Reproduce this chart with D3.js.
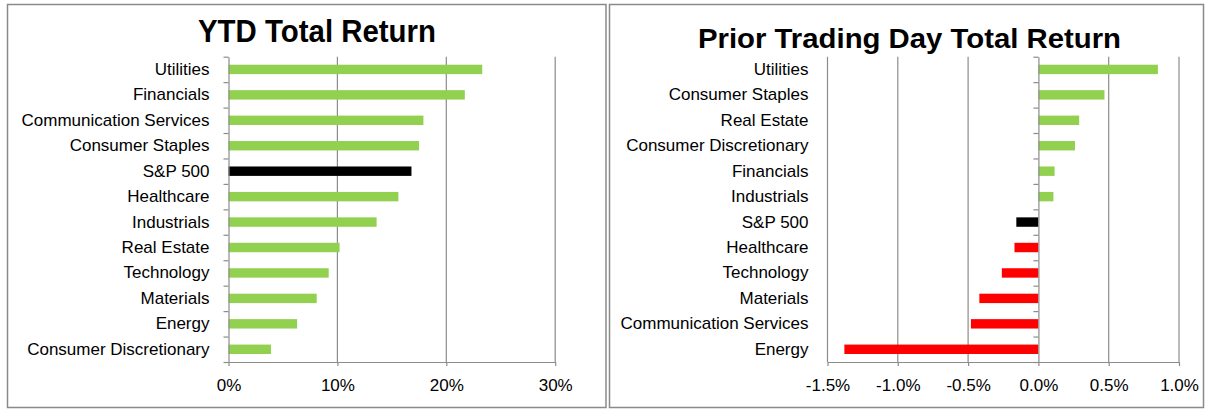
<!DOCTYPE html>
<html>
<head>
<meta charset="utf-8">
<script src="https://cdn.jsdelivr.net/npm/d3@7"></script>
<style>
  body { margin: 0; background: #fff; }
  svg { display: block; font-family: "Liberation Sans", Arial, sans-serif; }
</style>
</head>
<body>
<div id="chart"></div>
<script>
// YTD total return by sector (%)
const ytdCategories = ["Utilities", "Financials", "Communication Services", "Consumer Staples", "S&P 500",
  "Healthcare", "Industrials", "Real Estate", "Technology", "Materials", "Energy", "Consumer Discretionary"];
const ytdValues = [23.3, 21.7, 17.9, 17.5, 16.8, 15.6, 13.6, 10.2, 9.2, 8.1, 6.3, 3.9];
const ytdTicks = [0, 10, 20, 30];

// prior trading day total return by sector (%)
const dayCategories = ["Utilities", "Consumer Staples", "Real Estate", "Consumer Discretionary", "Financials",
  "Industrials", "S&P 500", "Healthcare", "Technology", "Materials", "Communication Services", "Energy"];
const dayValues = [0.85, 0.47, 0.29, 0.26, 0.115, 0.107, -0.157, -0.17, -0.26, -0.42, -0.48, -1.38];
const dayTicks = [-1.5, -1.0, -0.5, 0, 0.5, 1.0];

const W = 1206, H = 409;
const svg = d3.select("#chart").append("svg").attr("width", W).attr("height", H);

const green = "#92d050", red = "#ff0000", grid = "#8c8c8c";

function barColor(cat, v) {
  if (cat === "S&P 500") return "#000";
  return v < 0 ? red : green;
}

function drawPanel(o) {
  const g = svg.append("g");
  // chart frame
  g.append("rect").attr("x", o.frame[0]).attr("y", 4.5)
    .attr("width", o.frame[1] - o.frame[0]).attr("height", 403)
    .attr("fill", "#fff").attr("stroke", "#8a8a8a").attr("stroke-width", 1.5);

  g.append("text").attr("x", o.titleX).attr("y", o.titleY)
    .attr("text-anchor", "middle").attr("font-weight", "bold")
    .attr("font-size", o.titleSize).attr("textLength", o.titleLen).attr("lengthAdjust", "spacingAndGlyphs")
    .attr("fill", "#000").text(o.title);

  const top = 56.7, bottom = 362;
  const x = d3.scaleLinear().domain(o.domain).range(o.xr);
  const y = d3.scaleBand().domain(o.cats).range([top, bottom]).paddingInner(0.63).paddingOuter(0.315);
  const yb = d3.scaleLinear().domain([0, o.cats.length]).range([top, bottom]);

  // vertical gridlines
  g.append("g").selectAll("line").data(o.ticks.filter(t => t !== 0)).join("line")
    .attr("x1", d => x(d)).attr("x2", d => x(d)).attr("y1", top).attr("y2", bottom)
    .attr("stroke", grid).attr("stroke-width", 1.2);

  // x axis
  const xa = g.append("g").attr("transform", `translate(0,${bottom})`)
    .call(d3.axisBottom(x).tickValues(o.ticks).tickFormat(o.fmt).tickSize(4).tickSizeOuter(0).tickPadding(13));
  xa.select(".domain").attr("stroke", grid).attr("stroke-width", 1.2);
  xa.selectAll(".tick line").attr("stroke", grid).attr("stroke-width", 1.2);
  xa.selectAll("text").attr("font-size", 17).attr("fill", "#000").attr("font-family", "Liberation Sans, Arial, sans-serif");

  // bars
  g.append("g").selectAll("rect").data(o.cats.map((c, i) => ({ c, v: o.vals[i] }))).join("rect")
    .attr("x", d => x(Math.min(0, d.v))).attr("width", d => Math.abs(x(d.v) - x(0)))
    .attr("y", d => y(d.c)).attr("height", y.bandwidth())
    .attr("fill", d => barColor(d.c, d.v));

  // category axis at zero with boundary ticks
  const ya = g.append("g").attr("transform", `translate(${x(0)},0)`)
    .call(d3.axisLeft(yb).ticks(o.cats.length).tickFormat("").tickSize(5).tickSizeOuter(0));
  ya.select(".domain").attr("stroke", grid).attr("stroke-width", 1.2);
  ya.selectAll(".tick line").attr("stroke", grid).attr("stroke-width", 1.2);

  // category labels at the low end of the plot
  const yl = g.append("g").attr("transform", `translate(${o.xr[0]},0)`)
    .call(d3.axisLeft(y).tickSize(0).tickPadding(19));
  yl.select(".domain").remove();
  yl.selectAll("text").attr("font-size", 17).attr("fill", "#000").attr("font-family", "Liberation Sans, Arial, sans-serif");
}

drawPanel({
  frame: [7.5, 606], title: "YTD Total Return", titleX: 317, titleY: 41.7, titleSize: 31, titleLen: 238,
  cats: ytdCategories, vals: ytdValues, ticks: ytdTicks, domain: [0, 30], xr: [228.5, 555.2],
  fmt: d => d + "%"
});

drawPanel({
  frame: [609.5, 1203.5], title: "Prior Trading Day Total Return", titleX: 909.5, titleY: 48, titleSize: 28, titleLen: 423,
  cats: dayCategories, vals: dayValues, ticks: dayTicks, domain: [-1.5, 1.0], xr: [827.5, 1179],
  fmt: d => d.toFixed(1) + "%"
});
</script>
</body>
</html>
